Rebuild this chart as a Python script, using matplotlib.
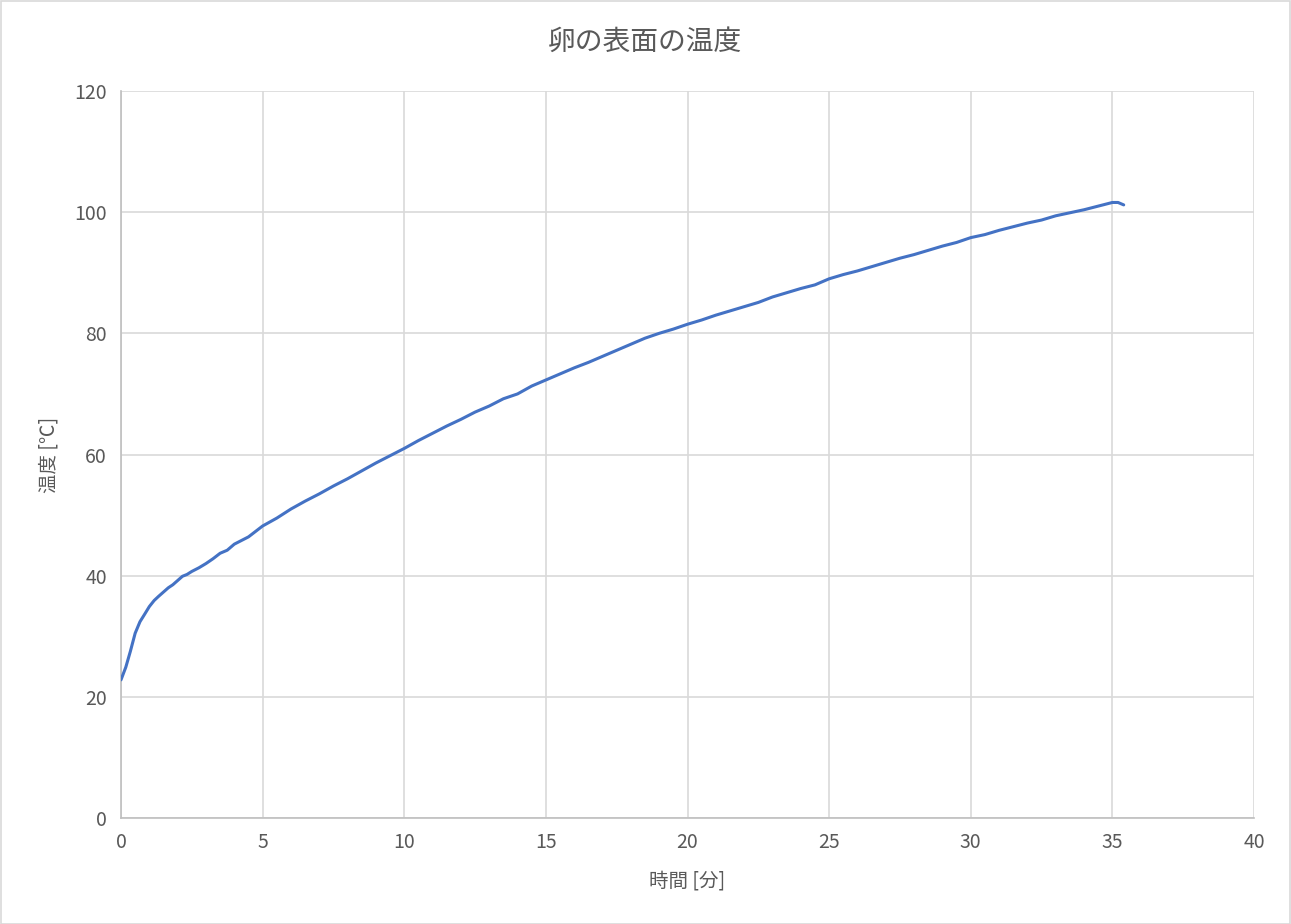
import matplotlib
matplotlib.use("Agg")
import matplotlib.pyplot as plt
from matplotlib.patches import Rectangle

plt.rcParams['font.family'] = ['Noto Sans CJK JP', 'DejaVu Sans']

time_min = [0, 0.17, 0.33, 0.5, 0.67, 0.83, 1.0, 1.17, 1.33, 1.5, 1.67, 1.83,
            2.0, 2.17, 2.33, 2.5, 2.75, 3.0, 3.25, 3.5, 3.75, 4.0, 4.5, 5.0,
            5.5, 6.0, 6.5, 7.0, 7.5, 8.0, 8.5, 9.0, 9.5, 10.0, 10.5, 11.0,
            11.5, 12.0, 12.5, 13.0, 13.5, 14.0, 14.5, 15.0, 15.5, 16.0, 16.5,
            17.0, 17.5, 18.0, 18.5, 19.0, 19.5, 20.0, 20.5, 21.0, 21.5, 22.0,
            22.5, 23.0, 23.5, 24.0, 24.5, 25.0, 25.5, 26.0, 26.5, 27.0, 27.5,
            28.0, 28.5, 29.0, 29.5, 30.0, 30.5, 31.0, 31.5, 32.0, 32.5, 33.0,
            33.5, 34.0, 34.5, 35.0, 35.2, 35.4]
temp_c = [22.8, 24.9, 27.5, 30.5, 32.4, 33.6, 34.9, 35.9, 36.6, 37.3, 38.0, 38.5,
          39.2, 39.9, 40.2, 40.7, 41.3, 42.0, 42.8, 43.7, 44.2, 45.2, 46.4, 48.2,
          49.5, 51.0, 52.3, 53.5, 54.8, 56.0, 57.3, 58.6, 59.8, 61.0, 62.3, 63.5,
          64.7, 65.8, 67.0, 68.0, 69.2, 70.0, 71.3, 72.3, 73.3, 74.3, 75.2,
          76.2, 77.2, 78.2, 79.2, 80.0, 80.7, 81.5, 82.2, 83.0, 83.7, 84.4,
          85.1, 86.0, 86.7, 87.4, 88.0, 89.0, 89.7, 90.3, 91.0, 91.7, 92.4,
          93.0, 93.7, 94.4, 95.0, 95.8, 96.3, 97.0, 97.6, 98.2, 98.7, 99.4,
          99.9, 100.4, 101.0, 101.6, 101.6, 101.2]

x_ticks = [0, 5, 10, 15, 20, 25, 30, 35, 40]
y_ticks = [0, 20, 40, 60, 80, 100, 120]

title = "卵の表面の温度"
xlabel = "時間 [分]"
ylabel = "温度 [℃]"

W, H = 1291, 924
fig = plt.figure(figsize=(W / 100, H / 100), dpi=100)
ax = fig.add_axes([121 / W, 1 - 818 / H, (1254 - 121) / W, (818 - 91) / H])

ax.plot(time_min, temp_c, color='#4472C4', linewidth=2.2, solid_capstyle='round', zorder=3)

ax.set_xlim(0, 40)
ax.set_ylim(0, 120)
ax.set_xticks(x_ticks)
ax.set_yticks(y_ticks)
ax.grid(True, color='#D9D9D9', linewidth=1.2, zorder=0)
ax.set_axisbelow(True)
for s in ['top', 'right']:
    ax.spines[s].set_visible(False)
for s in ['left', 'bottom']:
    ax.spines[s].set_color('#BFBFBF')
    ax.spines[s].set_linewidth(1.2)
ax.tick_params(length=0, labelsize=14, labelcolor='#595959', pad=10)

ax.set_xlabel(xlabel, fontsize=14, color='#595959', labelpad=13)
ax.set_ylabel(ylabel, fontsize=14, color='#595959', labelpad=11)
fig.text(0.5, 1 - 42 / H, title, ha='center', va='center', fontsize=20, color='#595959')

fig.patches.append(Rectangle((0.5 / W, 0.5 / H), 1 - 1.5 / W, 1 - 1.5 / H,
                             transform=fig.transFigure, fill=False,
                             edgecolor='#D9D9D9', linewidth=1.2))

fig.savefig('out.png', dpi=100, facecolor='white')
